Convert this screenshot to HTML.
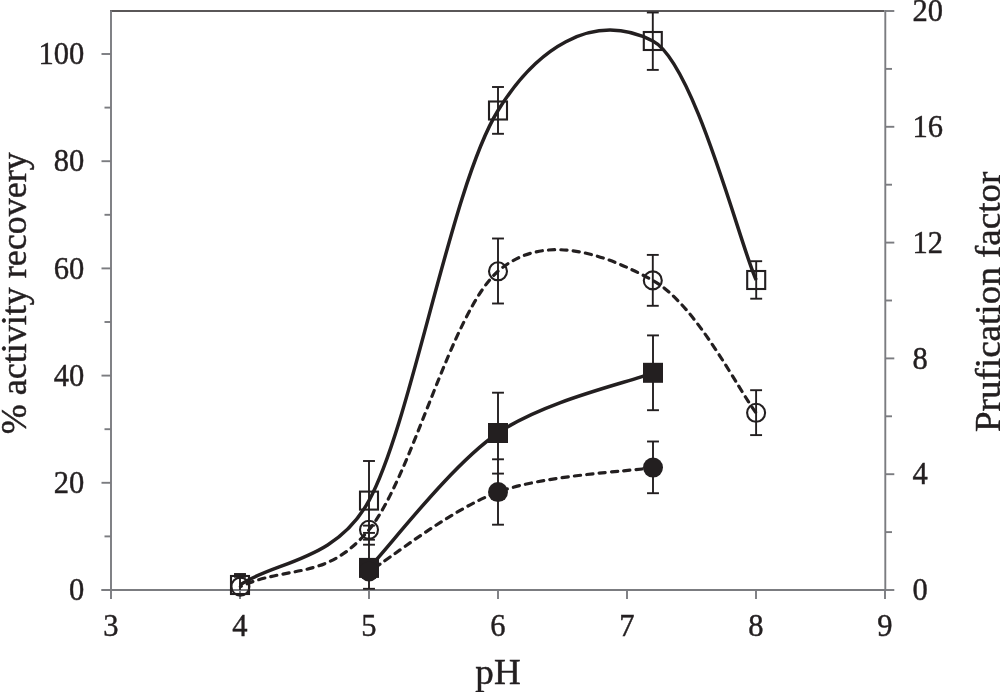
<!DOCTYPE html>
<html lang="en"><head><meta charset="utf-8"><title>Chart</title>
<style>html,body{margin:0;padding:0;background:#fff}svg{display:block}.t{font-family:"Liberation Serif",serif}</style></head>
<body>
<svg width="1000" height="692" viewBox="0 0 1000 692">
<rect width="1000" height="692" fill="#fff"/>
<path d="M110 11H884.5" stroke="#231f20" stroke-width="1.7"/>
<g stroke="#7b7c80" stroke-width="1.9" fill="none">
<path d="M111 10.6V599M885.3 10.1V590M101.3 590H886.2"/>
<path d="M101.5 54.0H111"/>
<path d="M101.5 161.2H111"/>
<path d="M101.5 268.4H111"/>
<path d="M101.5 375.6H111"/>
<path d="M101.5 482.8H111"/>
<path d="M104.5 107.6H111"/>
<path d="M104.5 214.8H111"/>
<path d="M104.5 322.0H111"/>
<path d="M104.5 429.2H111"/>
<path d="M104.5 536.4H111"/>
<path d="M885.3 11.0H894.3"/>
<path d="M885.3 126.8H894.3"/>
<path d="M885.3 242.6H894.3"/>
<path d="M885.3 358.4H894.3"/>
<path d="M885.3 474.2H894.3"/>
<path d="M885.3 590.0H894.3"/>
<path d="M885.3 68.9H892"/>
<path d="M885.3 184.7H892"/>
<path d="M885.3 300.5H892"/>
<path d="M885.3 416.3H892"/>
<path d="M885.3 532.1H892"/>
<path d="M240 590V599"/>
<path d="M369 590V599"/>
<path d="M498 590V599"/>
<path d="M627 590V599"/>
<path d="M756 590V599"/>
<path d="M885 590V599"/>
</g>
<g class="t" font-size="32.5" fill="#231f20" stroke="#231f20" stroke-width="0.45">
<text transform="translate(84.3 64.2) scale(0.94 1)" text-anchor="end">100</text>
<text transform="translate(84.3 171.4) scale(0.94 1)" text-anchor="end">80</text>
<text transform="translate(84.3 278.6) scale(0.94 1)" text-anchor="end">60</text>
<text transform="translate(84.3 385.8) scale(0.94 1)" text-anchor="end">40</text>
<text transform="translate(84.3 493.0) scale(0.94 1)" text-anchor="end">20</text>
<text transform="translate(84.3 600.2) scale(0.94 1)" text-anchor="end">0</text>
<text transform="translate(912.6 21.2) scale(0.94 1)">20</text>
<text transform="translate(912.6 137.0) scale(0.94 1)">16</text>
<text transform="translate(912.6 252.8) scale(0.94 1)">12</text>
<text transform="translate(912.6 368.6) scale(0.94 1)">8</text>
<text transform="translate(912.6 484.4) scale(0.94 1)">4</text>
<text transform="translate(912.6 600.2) scale(0.94 1)">0</text>
<text transform="translate(111 636.2) scale(0.94 1)" text-anchor="middle">3</text>
<text transform="translate(240 636.2) scale(0.94 1)" text-anchor="middle">4</text>
<text transform="translate(369 636.2) scale(0.94 1)" text-anchor="middle">5</text>
<text transform="translate(498 636.2) scale(0.94 1)" text-anchor="middle">6</text>
<text transform="translate(627 636.2) scale(0.94 1)" text-anchor="middle">7</text>
<text transform="translate(756 636.2) scale(0.94 1)" text-anchor="middle">8</text>
<text transform="translate(885 636.2) scale(0.94 1)" text-anchor="middle">9</text>
</g>
<g class="t" font-size="36" fill="#231f20" stroke="#231f20" stroke-width="0.45">
<text transform="translate(498 683.6) scale(1.03 1)" text-anchor="middle">pH</text>
<text transform="translate(25.8 293.3) rotate(-90) scale(1.0 1)" text-anchor="middle">% activity recovery</text>
<text transform="translate(999.5 301.8) rotate(-90) scale(1.03 1)" text-anchor="middle">Prufication factor</text>
</g>
<g stroke="#231f20" stroke-width="1.9" fill="none">
<path d="M240 574V590"/>
<path d="M234.05 574H245.95"/>
<path d="M234.05 575.5H245.95"/>
<path d="M234.05 576.8H245.95"/>
<path d="M369 461V588.8"/>
<path d="M363.05 461H374.95"/>
<path d="M363.05 525.6H374.95"/>
<path d="M363.05 532.9H374.95"/>
<path d="M363.05 539.7H374.95"/>
<path d="M363.05 544.7H374.95"/>
<path d="M363.05 588.8H374.95"/>
<path d="M498 87V133.8"/>
<path d="M492.05 87H503.95"/>
<path d="M492.05 133.8H503.95"/>
<path d="M498 238.5V303.5"/>
<path d="M492.05 238.5H503.95"/>
<path d="M492.05 303.5H503.95"/>
<path d="M498 392.7V524.7"/>
<path d="M492.05 392.7H503.95"/>
<path d="M492.05 459.3H503.95"/>
<path d="M492.05 473.6H503.95"/>
<path d="M492.05 524.7H503.95"/>
<path d="M652.8 12.5V69.9"/>
<path d="M646.8499999999999 12.5H658.75"/>
<path d="M646.8499999999999 69.9H658.75"/>
<path d="M652.8 254.9V305.8"/>
<path d="M646.8499999999999 254.9H658.75"/>
<path d="M646.8499999999999 305.8H658.75"/>
<path d="M653 335.4V410.2"/>
<path d="M647.05 335.4H658.95"/>
<path d="M647.05 410.2H658.95"/>
<path d="M653 441.5V493.2"/>
<path d="M647.05 441.5H658.95"/>
<path d="M647.05 493.2H658.95"/>
<path d="M756.2 261.2V298.7"/>
<path d="M750.25 261.2H762.1500000000001"/>
<path d="M750.25 298.7H762.1500000000001"/>
<path d="M756.1 390.2V435.1"/>
<path d="M750.15 390.2H762.0500000000001"/>
<path d="M750.15 435.1H762.0500000000001"/>
</g>
<g stroke="#231f20" stroke-width="3.5" fill="none">
<path d="M240.00 585.00 C274.40 561.10 335.60 562.10 369.00 500.60 C412.00 421.52 450.70 187.10 498.00 110.50 C534.55 51.30 590.91 9.43 652.80 41.00 C694.50 62.27 741.39 249.58 756.20 280.00"/>
<path d="M369.00 567.90 C390.50 545.42 450.67 465.52 498.00 433.00 C545.33 400.48 627.17 382.83 653.00 372.80"/>
<path d="M240.40 586.60 C288.40 564.60 326.30 581.40 369.00 529.80 C411.93 477.25 450.70 312.87 498.00 271.30 C545.30 229.73 609.78 256.82 652.80 280.40 C695.82 303.98 738.88 390.73 756.10 412.80" stroke-width="3.2" stroke-linecap="round" stroke-dasharray="6.2 6.18" stroke-dashoffset="5.2"/>
<path d="M369.00 571.50 C390.50 558.27 450.67 509.42 498.00 492.10 C545.33 474.78 627.17 471.68 653.00 467.60" stroke-width="3.2" stroke-linecap="round" stroke-dasharray="6.2 6.18" stroke-dashoffset="5.2"/>
</g>
<g stroke="#231f20" stroke-width="2.1" fill="none">
<rect x="231.0" y="576.0" width="18" height="18"/>
<rect x="360.0" y="491.6" width="18" height="18"/>
<rect x="489.0" y="101.5" width="18" height="18"/>
<rect x="643.8" y="32.0" width="18" height="18"/>
<rect x="747.2" y="271.0" width="18" height="18"/>
<circle cx="240.4" cy="586.6" r="9"/>
<circle cx="369" cy="529.8" r="9"/>
<circle cx="498" cy="271.3" r="9"/>
<circle cx="652.8" cy="280.4" r="9"/>
<circle cx="756.1" cy="412.8" r="9"/>
</g>
<g fill="#231f20">
<rect x="359.0" y="557.9" width="20" height="20"/>
<rect x="488.0" y="423.0" width="20" height="20"/>
<rect x="643.0" y="362.8" width="20" height="20"/>
<circle cx="369" cy="571.5" r="10"/>
<circle cx="498" cy="492.1" r="10"/>
<circle cx="653" cy="467.6" r="10"/>
</g>
</svg>
</body></html>
